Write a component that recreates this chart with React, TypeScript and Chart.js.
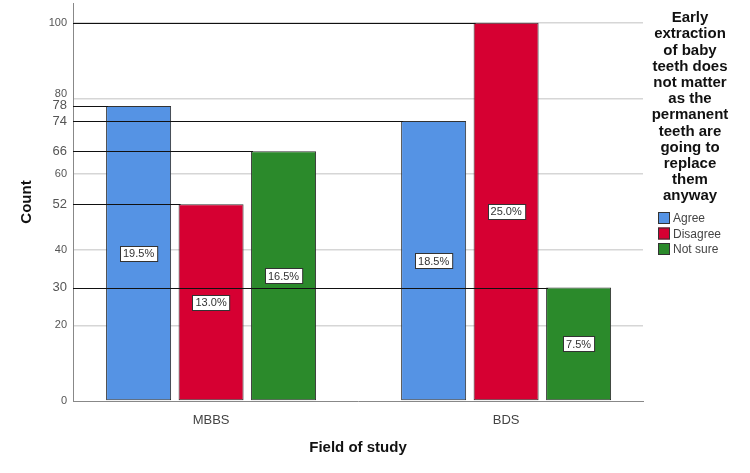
import React, { useEffect, useRef } from "react";
import { Chart, registerables } from "chart.js";

Chart.register(...registerables);

const categories = ["MBBS", "BDS"];
const seriesNames = ["Agree", "Disagree", "Not sure"];
const agreeCounts = [78, 74];
const disagreeCounts = [52, 100];
const notSureCounts = [66, 30];
const agreePct = ["19.5%", "18.5%"];
const disagreePct = ["13.0%", "25.0%"];
const notSurePct = ["16.5%", "7.5%"];
const yTickValues = [0, 20, 30, 40, 52, 60, 66, 74, 78, 80, 100];
const yGridValues = [20, 40, 60, 80, 100];
const yShiftedTick = 80;
const legendTitle = [
  "Early",
  "extraction",
  "of baby",
  "teeth does",
  "not matter",
  "as the",
  "permanent",
  "teeth are",
  "going to",
  "replace",
  "them",
  "anyway",
];
const colors = ["#5593E4", "#D60032", "#2B8A2B"];

const FONT = "'Liberation Sans', Arial, sans-serif";

const overlayPlugin = {
  id: "overlay",
  afterDatasetsDraw(chart: any) {
    const ctx = chart.ctx;
    const area = chart.chartArea;
    ctx.save();
    chart.data.datasets.forEach((ds: any, di: number) => {
      const meta = chart.getDatasetMeta(di);
      meta.data.forEach((bar: any) => {
        const left = bar.x - bar.width / 2;
        const y = Math.round(bar.y) + 0.5;
        ctx.strokeStyle = "#111";
        ctx.lineWidth = 1;
        ctx.beginPath();
        ctx.moveTo(area.left, y);
        ctx.lineTo(left + 2, y);
        ctx.stroke();
      });
    });
    ctx.font = `11px ${FONT}`;
    ctx.textAlign = "center";
    ctx.textBaseline = "middle";
    chart.data.datasets.forEach((ds: any, di: number) => {
      const meta = chart.getDatasetMeta(di);
      meta.data.forEach((bar: any, i: number) => {
        const txt = ds.pctLabels[i];
        const cy = (bar.y + bar.base) / 2;
        const w = ctx.measureText(txt).width + 6;
        const h = 15;
        const x0 = Math.round(bar.x - w / 2) + 0.5;
        const y0 = Math.round(cy - h / 2) + 0.5;
        ctx.fillStyle = "#ffffff";
        ctx.fillRect(x0, y0, w, h);
        ctx.strokeStyle = "#333";
        ctx.lineWidth = 1;
        ctx.strokeRect(x0, y0, w, h);
        ctx.fillStyle = "#333";
        ctx.fillText(txt, bar.x, cy + 1);
      });
    });
    ctx.restore();
  },
  afterDraw(chart: any) {
    const ctx = chart.ctx;
    const area = chart.chartArea;
    ctx.save();
    // shifted tick label (avoids overlap with 78)
    ctx.fillStyle = "#555";
    ctx.font = `11px ${FONT}`;
    ctx.textAlign = "right";
    ctx.textBaseline = "middle";
    ctx.fillText(String(yShiftedTick), area.left - 6, chart.scales.y.getPixelForValue(yShiftedTick) - 4);

    ctx.fillStyle = "#111";
    ctx.font = `bold 15px ${FONT}`;
    ctx.textAlign = "center";
    ctx.fillText("Field of study", (area.left + area.right) / 2, 448);
    ctx.save();
    ctx.translate(27, (area.top + area.bottom) / 2);
    ctx.rotate(-Math.PI / 2);
    ctx.fillText("Count", 0, 0);
    ctx.restore();
    ctx.font = `bold 15px ${FONT}`;
    legendTitle.forEach((line, i) => {
      ctx.fillText(line, 690, 18 + i * 16.2);
    });
    ctx.font = `12px ${FONT}`;
    ctx.textAlign = "left";
    chart.data.datasets.forEach((ds: any, i: number) => {
      const y = 218 + i * 15.5;
      ctx.fillStyle = ds.backgroundColor;
      ctx.fillRect(658, y - 6, 12, 12);
      ctx.strokeStyle = "#333";
      ctx.lineWidth = 1;
      ctx.strokeRect(658.5, y - 5.5, 11, 11);
      ctx.fillStyle = "#444";
      ctx.fillText(ds.label, 673, y + 1);
    });
    ctx.restore();
  },
};

export default function App() {
  const ref = useRef<HTMLCanvasElement>(null);
  useEffect(() => {
    if (!ref.current) return;
    const countSets = [agreeCounts, disagreeCounts, notSureCounts];
    const pctSets = [agreePct, disagreePct, notSurePct];
    const chart = new Chart(ref.current, {
      type: "bar",
      data: {
        datasets: seriesNames.map((name, si) => ({
          label: name,
          data: categories.map((c, i) => ({ x: i, y: countSets[si][i] })),
          backgroundColor: colors[si],
          borderColor: "#333",
          borderWidth: 1,
          borderSkipped: false,
          categoryPercentage: 0.737,
          barPercentage: 0.897,
          pctLabels: pctSets[si],
        })) as any,
      },
      options: {
        animation: false,
        responsive: false,
        maintainAspectRatio: false,
        layout: { padding: { left: 0, right: 107, top: 3, bottom: 0 } },
        plugins: {
          legend: { display: false },
          tooltip: { enabled: false },
        },
        scales: {
          x: {
            type: "linear",
            min: -0.468,
            max: 1.464,
            offset: false,
            afterBuildTicks: (scale: any) => {
              scale.ticks = categories.map((c, i) => ({ value: i }));
            },
            afterFit: (scale: any) => {
              scale.height = 72;
              scale.paddingLeft = 0;
              scale.paddingRight = 0;
            },
            ticks: {
              callback: (v: any) => categories[Math.round(Number(v))] ?? "",
              color: "#444",
              font: { family: FONT, size: 13 },
              padding: 12,
              autoSkip: false,
              maxRotation: 0,
            },
            grid: { display: false, drawTicks: false },
            border: { display: true, color: "#888", width: 1 },
          },
          y: {
            type: "linear",
            min: 0,
            max: 105.2,
            afterBuildTicks: (scale: any) => {
              scale.ticks = yTickValues.map((v) => ({ value: v }));
            },
            afterFit: (scale: any) => {
              scale.width = 73;
              scale.paddingTop = 0;
              scale.paddingBottom = 0;
            },
            ticks: {
              callback: (v: any) => (Number(v) === yShiftedTick ? "" : String(v)),
              color: "#555",
              font: (c: any) => ({
                family: FONT,
                size: c.tick && (yGridValues.includes(c.tick.value) || c.tick.value === 0) ? 11 : 13,
              }),
              padding: 6,
              autoSkip: false,
            },
            grid: {
              drawTicks: false,
              color: (c: any) =>
                c.tick && yGridValues.includes(c.tick.value) ? "#d6d6d6" : "rgba(0,0,0,0)",
              lineWidth: 1.5,
            },
            border: { display: true, color: "#888", width: 1 },
          },
        },
      },
      plugins: [overlayPlugin],
    });
    return () => chart.destroy();
  }, []);
  return (
    <div style={{ position: "absolute", left: 0, top: 0, width: 750, height: 473, background: "#fff" }}>
      <canvas ref={ref} width={750} height={473} style={{ width: 750, height: 473 }} />
    </div>
  );
}
